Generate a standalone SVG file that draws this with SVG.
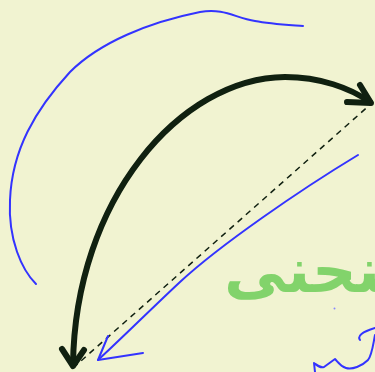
<svg xmlns="http://www.w3.org/2000/svg" width="375" height="372" viewBox="0 0 375 372">
<style>
.blue{fill:none;stroke:#3333ff;stroke-width:2;stroke-linecap:round;stroke-linejoin:round}
.heavy{fill:none;stroke:#102010;stroke-width:6;stroke-linecap:round;stroke-linejoin:round}
.dash{fill:none;stroke:#102010;stroke-width:1.5;stroke-dasharray:6 5}
.lbl{font-family:"DejaVu Sans",sans-serif;font-weight:bold;font-size:62px;fill:#82d36b}
</style>
<rect width="375" height="372" fill="#f1f3d1"/>
<g id="connectors">
<path class="dash" d="M73,368 L372,103"/>
<path class="heavy" d="M73,365 C 75,200 180,78 285,77 C 320,77 350,88 370,102"/>
<path class="heavy" d="M347,102 L371,103 L360,85"/>
<path class="heavy" d="M62,349 L73,366 L84,350"/>
</g>
<g id="sketch">
<path class="blue" d="M36,284 C 22,270 8,240 10,200 C 12,150 35,110 70,72 C 100,42 150,22 200,12 C 225,8 235,18 255,21 C 270,24 290,25 303,26"/>
<path class="blue" d="M358,155 C 300,190 220,245 180,282 C 150,310 120,340 98,360"/>
<path class="blue" d="M108,336 L98,360 L143,353"/>
<circle cx="334.5" cy="308.5" r="1" fill="#8888ff"/>
<path class="blue" d="M315,372 L314,363 C 318,366 320,368 324,367 L335,359 C 338,362 340,366 346,368 C 352,370 362,366 368,360 C 372,355 373,345 375,335"/>
<path class="blue" d="M360,340 C 357,336 362,332 375,328"/>
</g>
<g id="label">
<text class="lbl" x="224" y="292">منحنى</text>
</g>
</svg>
